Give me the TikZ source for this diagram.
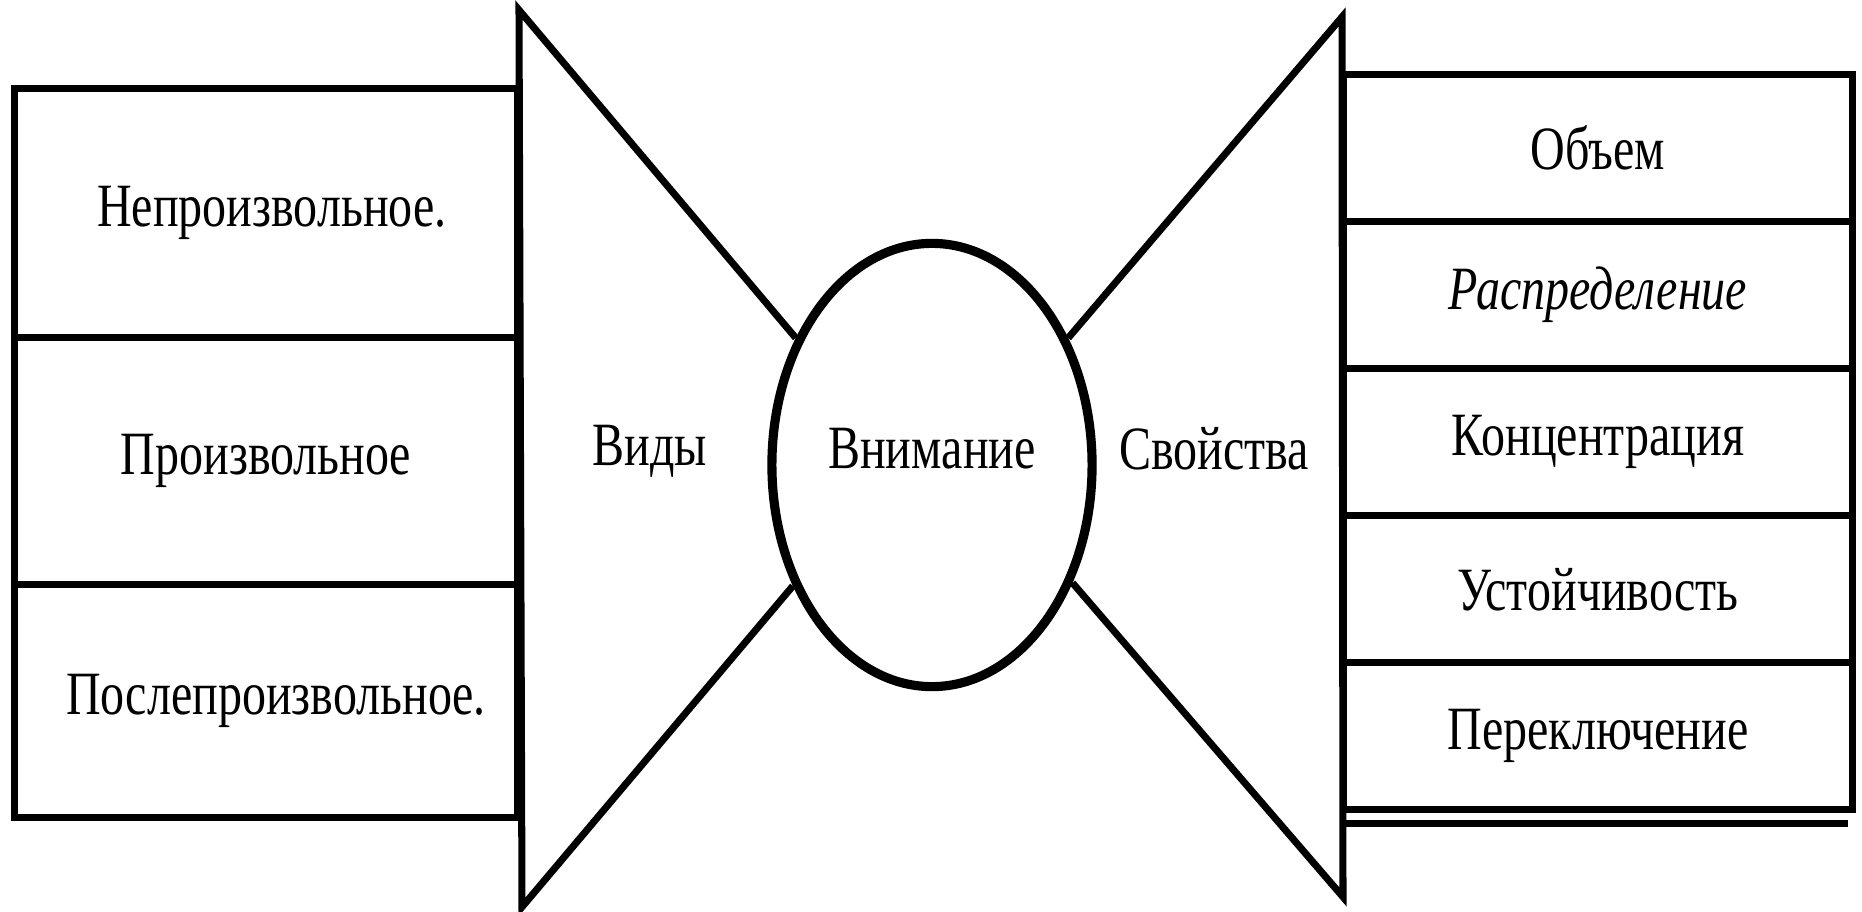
\documentclass[tikz,border=0pt]{standalone}
\usepackage{fontspec}
\setmainfont[FakeStretch=0.78]{Liberation Serif}
\usetikzlibrary{shapes.geometric, positioning}

\begin{document}
\begin{tikzpicture}[
    x=0.01cm, y=-0.01cm,
    node distance=0pt,
    every node/.style={font=\fontsize{17.5}{20}\selectfont},
    kindbox/.style={rectangle, draw, line width=2pt, outer sep=0pt, inner sep=0pt, minimum width=5.03cm, text centered},
    propbox/.style={rectangle, draw, line width=2pt, outer sep=0pt, inner sep=0pt, minimum width=5.08cm, minimum height=1.47cm, text centered},
    tri/.style={line width=2pt, line join=miter},
    oval/.style={ellipse, draw, line width=2.6pt, fill=white, inner sep=0pt, minimum width=3.2cm, minimum height=4.43cm}
]
\useasboundingbox (0,0) rectangle (1862,912);

% Left: kinds of attention
\node[kindbox, minimum height=2.48cm] (invol) at (266,213) {\hspace{0.12cm}Непроизвольное.};
\node[kindbox, minimum height=2.47cm, below=of invol] (vol) {Произвольное};
\node[kindbox, minimum height=2.33cm, below=of vol] (postvol) {\hspace{0.2cm}Послепроизвольное.};

% Right: properties of attention
\node[propbox] (volume) at (1598,148) {Объем};
\node[propbox, below=of volume] (distrib) {\itshape Распределение};
\node[propbox, below=of distrib] (concent) {Концентрация};
\node[propbox, below=of concent] (stabil) {Устойчивость};
\node[propbox, below=of stabil] (switch) {Переключение};
\draw[line width=2pt] ([yshift=-0.14cm]switch.south west) -- ([yshift=-0.14cm, xshift=-0.04cm]switch.south east);

% Centre
\node[oval, label={[yshift=0.16cm]center:Внимание}] (att) at (932,465) {};
\node (kinds) at (650,451) {Виды};
\node (props) at (1214,449) {Свойства};

% Triangles
\coordinate (ltop) at (519,10);
\coordinate (lbot) at (522,907);
\coordinate (rtop) at (1342,17);
\coordinate (rbot) at (1343,897);
\draw[tri] (att.137) -- (ltop) -- (lbot) -- (att.221);
\draw[tri] (att.43) -- (rtop) -- (rbot) -- (att.320);
\end{tikzpicture}
\end{document}
